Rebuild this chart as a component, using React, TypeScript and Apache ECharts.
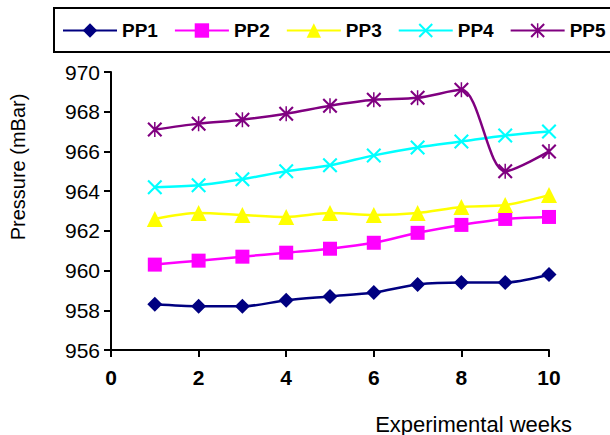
import React, { useEffect, useRef } from "react";
import * as echarts from "echarts";

const weeks = [1, 2, 3, 4, 5, 6, 7, 8, 9, 10];
const pp1 = [958.3, 958.2, 958.2, 958.5, 958.7, 958.9, 959.3, 959.4, 959.4, 959.8];
const pp2 = [960.3, 960.5, 960.7, 960.9, 961.1, 961.4, 961.9, 962.3, 962.6, 962.7];
const pp3 = [962.6, 962.9, 962.8, 962.7, 962.9, 962.8, 962.9, 963.2, 963.3, 963.8];
const pp4 = [964.2, 964.3, 964.6, 965.0, 965.3, 965.8, 966.2, 966.5, 966.8, 967.0];
const pp5 = [967.1, 967.4, 967.6, 967.9, 968.3, 968.6, 968.7, 969.1, 965.0, 966.0];

const seriesNames = ["PP1", "PP2", "PP3", "PP4", "PP5"];
const seriesValues = [pp1, pp2, pp3, pp4, pp5];
const seriesColors = ["#000080", "#FF00FF", "#FFFF00", "#00FFFF", "#800080"];

const crossPath = "path://M0 2 L2 0 L20 18 L18 20 Z M18 0 L20 2 L2 20 L0 18 Z";
const starPath =
  "path://M0 2 L2 0 L20 18 L18 20 Z M18 0 L20 2 L2 20 L0 18 Z M9 0 L11 0 L11 20 L9 20 Z";
const seriesSymbols = ["diamond", "rect", "triangle", crossPath, starPath];
const seriesSymbolSizes = [15, 14, 16, 15, 15];

const FONT = "Liberation Sans, Arial, sans-serif";

export default function App() {
  const ref = useRef<HTMLDivElement>(null);
  useEffect(() => {
    if (!ref.current) return;
    const chart = echarts.init(ref.current, null, { renderer: "svg" });
    chart.setOption({
      animation: false,
      backgroundColor: "#ffffff",
      grid: { left: 111, right: 61, top: 72, bottom: 85 },
      legend: {
        left: 62,
        top: 21,
        padding: 0,
        itemWidth: 54,
        itemHeight: 18,
        itemGap: 16,
        textStyle: { fontFamily: FONT, fontSize: 19, fontWeight: "bold", color: "#000" },
        data: seriesNames,
      },
      xAxis: {
        type: "value",
        min: 0,
        max: 10,
        interval: 2,
        splitLine: { show: false },
        axisLine: { show: true, onZero: false, lineStyle: { color: "#000", width: 2 } },
        axisTick: { show: true, length: 7, lineStyle: { color: "#000", width: 2 } },
        axisLabel: { fontFamily: FONT, fontSize: 21, fontWeight: "bold", color: "#000", margin: 17 },
      },
      yAxis: {
        type: "value",
        min: 956,
        max: 970,
        interval: 2,
        splitLine: { show: false },
        axisLine: { show: true, lineStyle: { color: "#000", width: 2 } },
        axisTick: { show: true, length: 7, lineStyle: { color: "#000", width: 2 } },
        axisLabel: { fontFamily: FONT, fontSize: 21, color: "#000", margin: 11 },
      },
      graphic: [
        {
          type: "rect",
          shape: { x: 54, y: 8, width: 600, height: 44 },
          style: { fill: "none", stroke: "#000", lineWidth: 2 },
          z: 0,
        },
        {
          type: "text",
          x: 18,
          y: 167,
          rotation: Math.PI / 2,
          style: {
            text: "Pressure (mBar)",
            fontFamily: FONT,
            fontSize: 20,
            fill: "#000",
            align: "center",
            verticalAlign: "middle",
          },
        },
        {
          type: "text",
          x: 572,
          y: 424,
          style: {
            text: "Experimental weeks",
            fontFamily: FONT,
            fontSize: 22,
            fill: "#000",
            align: "right",
            verticalAlign: "middle",
          },
        },
      ],
      series: seriesNames.map((name, i) => ({
        name,
        type: "line",
        smooth: 0.3,
        data: weeks.map((w, j) => [w, seriesValues[i][j]]),
        symbol: seriesSymbols[i],
        symbolSize: seriesSymbolSizes[i],
        showAllSymbol: true,
        lineStyle: { color: seriesColors[i], width: 2.5 },
        itemStyle: { color: seriesColors[i] },
        z: 2 + i,
      })),
    });
    return () => chart.dispose();
  }, []);
  return <div ref={ref} style={{ width: 610, height: 435, position: "absolute", left: 0, top: 0 }} />;
}
